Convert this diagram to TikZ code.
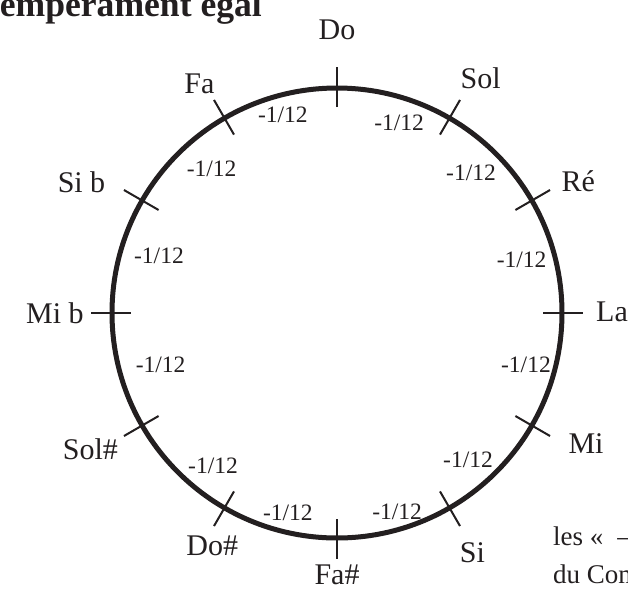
\documentclass[tikz,border=0pt]{standalone}
\usepackage{fontspec}
\setmainfont{Liberation Serif}
\definecolor{ink}{RGB}{35,31,32}

\begin{document}
\begin{tikzpicture}[x=1pt,y=1pt,
  note/.style={font=\fontsize{30}{31}\selectfont,text=ink,inner sep=0pt},
  frac/.style={font=\fontsize{23.5}{24}\selectfont,text=ink,inner sep=0pt},
  tickmark/.style={ink,line width=2pt}]
\useasboundingbox (-337,-285) rectangle (291,313);
\clip (-337,-285) rectangle (291,313);
% title, cut by the page edge
\node[anchor=base east,inner sep=0pt,text=ink,font=\fontsize{35.6}{36}\selectfont\bfseries] (titre) at (-75,297) {Tempérament égal};
% the circle of fifths
\node[circle,draw=ink,line width=5pt,minimum size=450pt,inner sep=0pt] (cercle) at (0,0) {};
\foreach \a in {0,30,...,330} \draw[tickmark] (\a:206) -- (\a:246);
% notes
\foreach \a/\r/\nom/\txt in {90/283/do/Do, 58.5/275/sol/Sol, 28.7/275/re/Ré, 0.2/275/la/La,
  -27.6/281/mi/Mi, -60.5/275/si/Si, -90/262/fad/Fa\#, -118.2/264/dod/Do\#,
  -151/282/sold/Sol\#, 180/282/mib/Mi b, 152.9/287/sib/Si b, 121/267/fa/Fa}
  \node[note] (\nom) at (\a:\r) {\txt};
% deviations between fifths
\foreach \a/\r [count=\i] in {105.3/205, 71.9/200, 46.3/194, 16/192, -15.4/196, -48.3/197,
  -73.2/208, -103.8/206, -129/197, -163.5/184, 162.2/187, 131/191}
  \node[frac] (ecart\i) at (\a:\r) {-1/12};
% text of the page, cut by the page edge
\node[anchor=base west,inner sep=0pt,text=ink,font=\fontsize{27}{28}\selectfont] (suite1) at (216,-232) {les «\hspace{14pt}–1/12~»};
\node[anchor=base west,inner sep=0pt,text=ink,font=\fontsize{27}{28}\selectfont] (suite2) at (216,-270) {du Comma};
\end{tikzpicture}
\end{document}
